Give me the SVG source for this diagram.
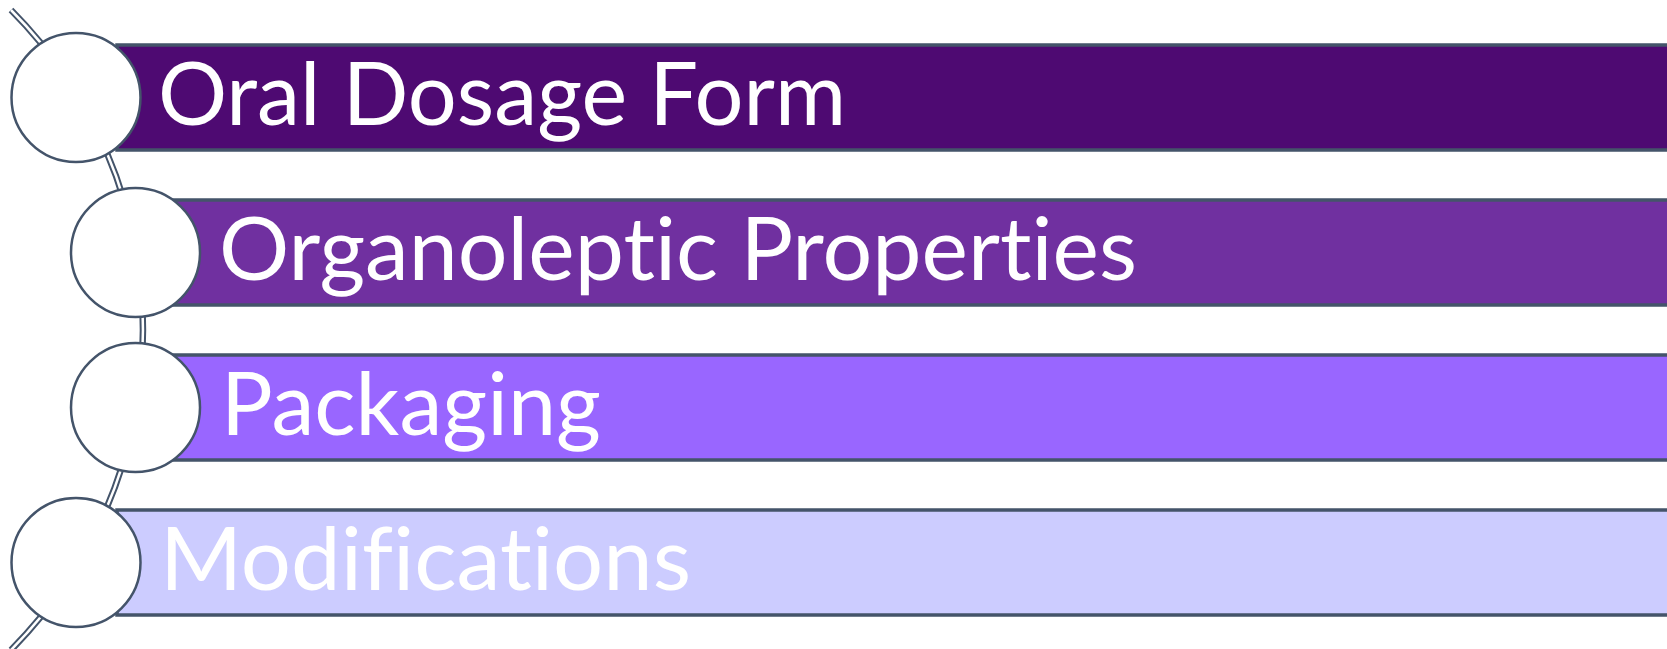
<svg xmlns="http://www.w3.org/2000/svg" width="1667" height="649" viewBox="0 0 1667 649">
<style>
.band{stroke:#44546A;stroke-width:3.5}
.dot{fill:#FFFFFF;stroke:#44546A;stroke-width:2.5}
.lbl{font-family:Lato,"Open Sans","Liberation Sans",sans-serif;font-size:88px;fill:#FFFFFF;font-variant-ligatures:none;font-feature-settings:"liga" 0,"clig" 0}
.arcO{fill:none;stroke:#44546A;stroke-width:6.5}
.arcI{fill:none;stroke:#FFFFFF;stroke-width:2.5}
</style>
<rect width="1667" height="649" fill="#FFFFFF"/>
<g id="connectors">
<path class="arcO" d="M 11 10 A 454 454 0 0 1 11 650"/>
<path class="arcI" d="M 11 10 A 454 454 0 0 1 11 650"/>
</g>
<g id="node1">
<rect class="band" x="117" y="45" width="1570" height="105" fill="#4E0A72"/>
<circle class="dot" cx="76" cy="97.5" r="64.5"/>
<text class="lbl" x="158" y="125" textLength="688" lengthAdjust="spacingAndGlyphs">Oral Dosage Form</text>
</g>
<g id="node2">
<rect class="band" x="174" y="200" width="1510" height="105" fill="#7030A0"/>
<circle class="dot" cx="135.5" cy="252.5" r="64.5"/>
<text class="lbl" x="219" y="280" textLength="918" lengthAdjust="spacingAndGlyphs">Organoleptic Properties</text>
</g>
<g id="node3">
<rect class="band" x="174" y="355" width="1510" height="105" fill="#9966FF"/>
<circle class="dot" cx="135.5" cy="407.5" r="64.5"/>
<text class="lbl" x="221" y="435" textLength="380" lengthAdjust="spacingAndGlyphs">Packaging</text>
</g>
<g id="node4">
<rect class="band" x="117" y="510" width="1570" height="105" fill="#CCCCFF"/>
<circle class="dot" cx="76" cy="562.5" r="64.5"/>
<text class="lbl" x="160" y="590" textLength="531" lengthAdjust="spacingAndGlyphs">Modifications</text>
</g>
</svg>
